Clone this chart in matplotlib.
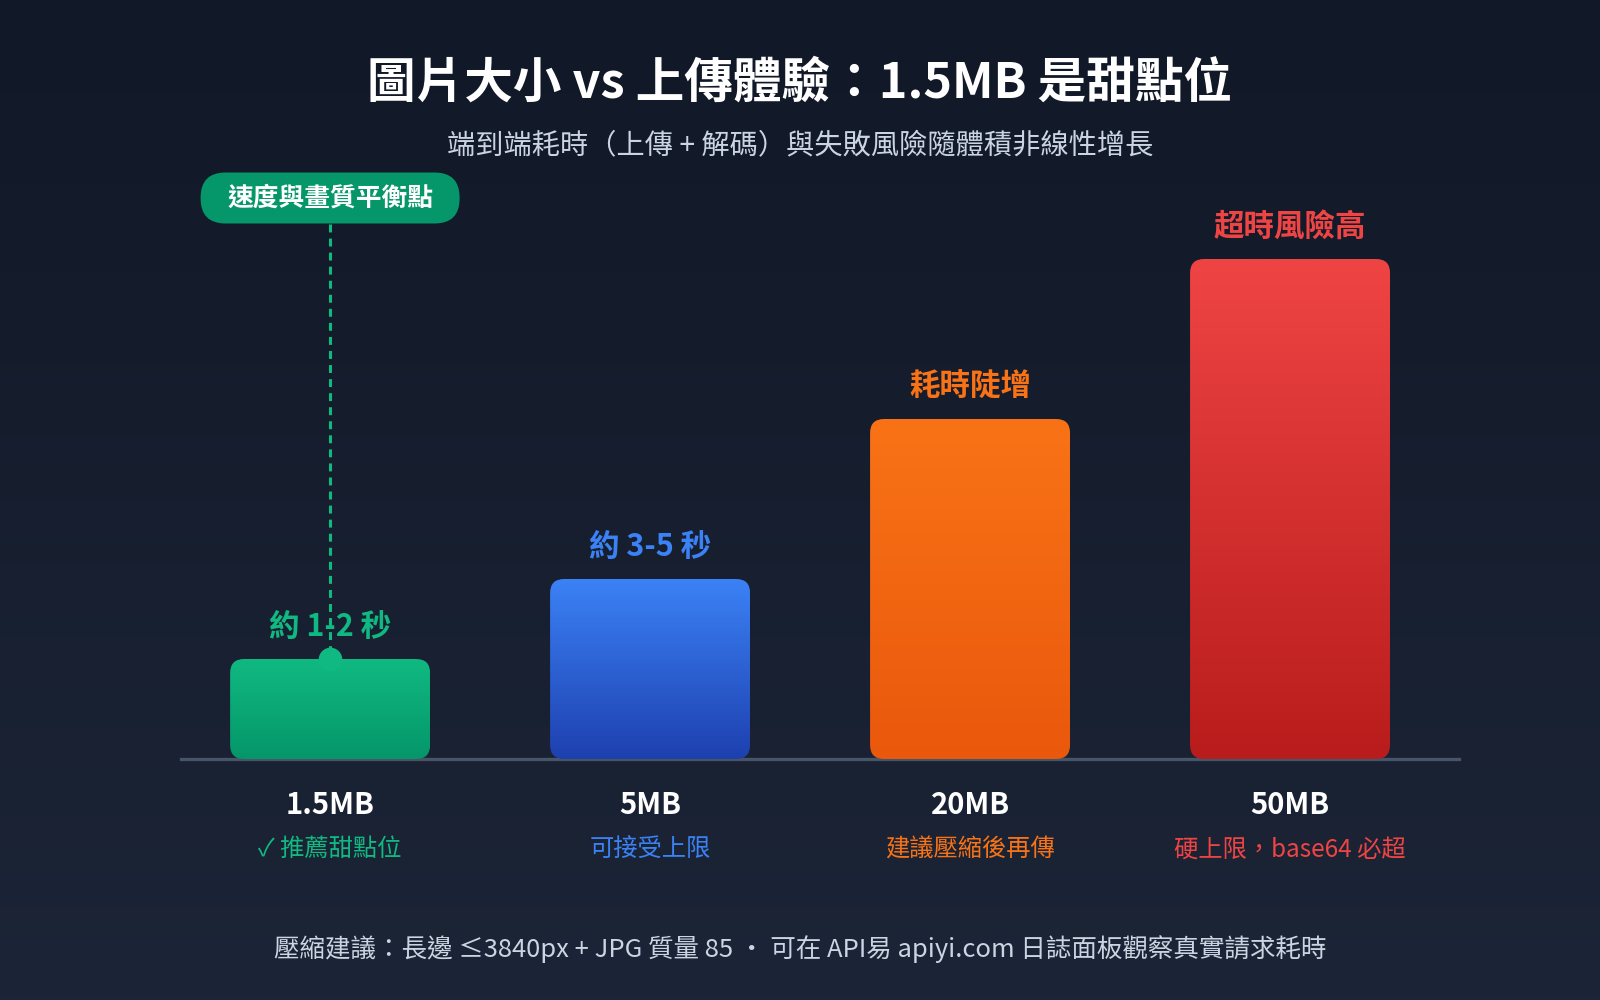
import numpy as np
import matplotlib
matplotlib.use("Agg")
import matplotlib.pyplot as plt
from matplotlib.colors import LinearSegmentedColormap
from matplotlib.patches import FancyBboxPatch

plt.rcParams['font.family'] = ['Noto Sans CJK TC', 'DejaVu Sans']

# data
sizes = ['1.5MB', '5MB', '20MB', '50MB']
scores = [20, 36, 68, 100]          # relative end-to-end cost (visual scale)
value_labels = ['約 1-2 秒', '約 3-5 秒', '耗時陡增', '超時風險高']
notes = ['✓ 推薦甜點位', '可接受上限', '建議壓縮後再傳', '硬上限，base64 必超']
top_colors = ['#10b981', '#3b82f6', '#f97316', '#ef4444']
bottom_colors = ['#059669', '#1e40af', '#ea580c', '#b91c1c']

title = '圖片大小 vs 上傳體驗：1.5MB 是甜點位'
subtitle = '端到端耗時（上傳 + 解碼）與失敗風險隨體積非線性增長'
footer = '壓縮建議：長邊 ≤3840px + JPG 質量 85 · 可在 API易 apiyi.com 日誌面板觀察真實請求耗時'
callout = '速度與畫質平衡點'

W, H = 1600, 1000
fig = plt.figure(figsize=(16, 10), dpi=100)

# background gradient
bg = fig.add_axes([0, 0, 1, 1], zorder=-10)
bg_cmap = LinearSegmentedColormap.from_list('bg', ['#111827', '#1c2537'])
bg.imshow(np.linspace(0, 1, 256).reshape(-1, 1), cmap=bg_cmap, aspect='auto',
          extent=[0, 1, 0, 1], origin='upper')
bg.axis('off')

# main axes: baseline at y=759px, top of scale at 259px
ax_left, ax_right = 181 / W, 1459 / W
ax = fig.add_axes([ax_left, 241 / H, ax_right - ax_left, 500 / H])
ax.set_facecolor('none')
xlim = (-0.466, 3.528)
ylim = (0, 100)
x = np.arange(len(sizes))
bars = ax.bar(x, scores, width=0.625, color='none', edgecolor='none')

ax.axhline(0, color='#475569', lw=2.4, zorder=1, clip_on=False)

px_per_x = (ax_right - ax_left) * W / (xlim[1] - xlim[0])
px_per_y = 500 / (ylim[1] - ylim[0])
radius_x = 14 / px_per_x
aspect = (14 / px_per_y) / radius_x

for i, b in enumerate(bars):
    bx, bw, bh = b.get_x(), b.get_width(), b.get_height()
    patch = FancyBboxPatch((bx, 0), bw, bh,
                           boxstyle=f'round,pad=0,rounding_size={radius_x}',
                           mutation_aspect=aspect, fc='none', ec='none', zorder=2)
    ax.add_patch(patch)
    cmap = LinearSegmentedColormap.from_list(f'g{i}', [bottom_colors[i], top_colors[i]])
    im = ax.imshow(np.linspace(0, 1, 256).reshape(-1, 1), cmap=cmap, aspect='auto',
                   extent=[bx, bx + bw, 0, bh], origin='lower', zorder=2)
    im.set_clip_path(patch)

    ax.annotate(value_labels[i], xy=(x[i], bh), xytext=(0, 23), textcoords='offset points',
                ha='center', va='center', fontsize=22, fontweight='bold',
                color=top_colors[i], zorder=3)
    ax.annotate(sizes[i], xy=(x[i], 0), xytext=(0, -33), textcoords='offset points',
                ha='center', va='center', fontsize=21, fontweight='bold',
                color='white', annotation_clip=False)
    ax.annotate(notes[i], xy=(x[i], 0), xytext=(0, -65), textcoords='offset points',
                ha='center', va='center', fontsize=17.5, color=top_colors[i],
                annotation_clip=False)

ax.set_xlim(*xlim)
ax.set_ylim(*ylim)
ax.axis('off')

# callout pill + dashed leader to the sweet spot
pill_y = (759 - 198) / px_per_y
pill_w = 259 / px_per_x
pill_h = 51 / px_per_y
pill = FancyBboxPatch((x[0] - pill_w / 2, pill_y - pill_h / 2), pill_w, pill_h,
                      boxstyle=f'round,pad=0,rounding_size={25 / px_per_x}',
                      mutation_aspect=(25 / px_per_y) / (25 / px_per_x),
                      fc='#059669', ec='none', zorder=5, clip_on=False)
ax.add_patch(pill)
ax.text(x[0], pill_y, callout, ha='center', va='center', fontsize=18.5,
        fontweight='bold', color='white', zorder=6, clip_on=False)
ax.plot([x[0], x[0]], [pill_y - pill_h / 2, scores[0]], color='#10b981', lw=2.2,
        dashes=(2.6, 2.0), zorder=4, clip_on=False)
ax.plot([x[0]], [scores[0]], 'o', color='#10b981', ms=17, mec='none',
        zorder=3, clip_on=False)

fig.text(0.5, 1 - 83 / H, title, ha='center', va='center', fontsize=35,
         fontweight='bold', color='white')
fig.text(0.5, 1 - 145 / H, subtitle, ha='center', va='center', fontsize=20.3,
         color='#cbd5e1')
fig.text(0.5, 1 - 949 / H, footer, ha='center', va='center', fontsize=18.4,
         color='#cbd5e1')

fig.savefig('out.png', dpi=100)
